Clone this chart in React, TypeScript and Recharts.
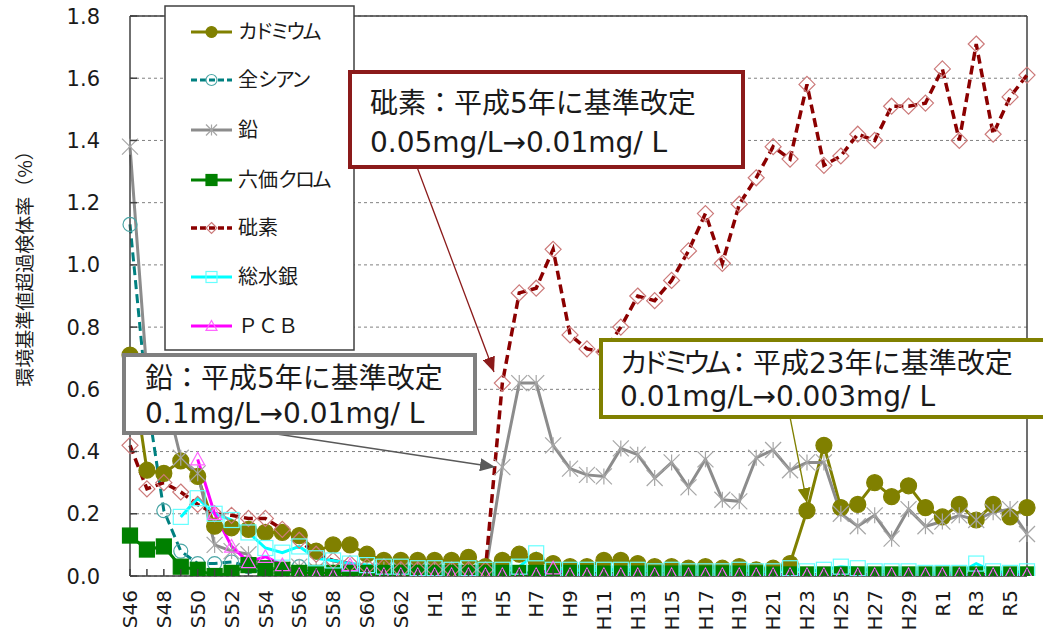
import React from 'react'
import { LineChart, Line, XAxis, YAxis, CartesianGrid, ReferenceLine } from 'recharts'

// fiscal years S46 (1971) .. R6 (2024)
const years = [
  'S46', 'S47', 'S48', 'S49', 'S50', 'S51', 'S52', 'S53', 'S54', 'S55', 'S56', 'S57', 'S58', 'S59', 'S60', 'S61', 'S62', 'S63',
  'H1', 'H2', 'H3', 'H4', 'H5', 'H6', 'H7', 'H8', 'H9', 'H10',
  'H11', 'H12', 'H13', 'H14', 'H15', 'H16', 'H17', 'H18', 'H19', 'H20',
  'H21', 'H22', 'H23', 'H24', 'H25', 'H26', 'H27', 'H28', 'H29', 'H30',
  'R1', 'R2', 'R3', 'R4', 'R5', 'R6',
]

const cadmium = [
  0.71, 0.34, 0.33, 0.37, 0.32, 0.16, 0.155, 0.15, 0.14, 0.14, 0.13, 0.08, 0.1, 0.1, 0.07, 0.05, 0.05, 0.05,
  0.05, 0.05, 0.06, 0.03, 0.05, 0.07, 0.05, 0.04, 0.03, 0.03,
  0.05, 0.05, 0.04, 0.03, 0.03, 0.025, 0.03, 0.025, 0.03, 0.02,
  0.025, 0.04, 0.21, 0.42, 0.22, 0.23, 0.3, 0.255, 0.29, 0.22,
  0.19, 0.23, 0.18, 0.23, 0.19, 0.22,
]
const cyanide = [
  1.13, 0.57, 0.21, 0.08, 0.04, 0.04, 0.045, 0.03, 0.0, 0.0, 0.03, 0.01, 0.01, 0.01, 0.01, 0.005, 0.005, 0.005,
  0.005, 0.005, 0.005, 0.005, 0.005, 0.005, 0.01, 0.005, 0.005, 0.005,
  0.005, 0.005, 0.005, 0.005, 0.005, 0.005, 0.005, 0.005, 0.005, 0.005,
  0.003, 0.003, 0.003, 0.003, 0.003, 0.003, 0.003, 0.003, 0.003, 0.003,
  0.003, 0.003, 0.003, 0.003, 0.003, 0.003,
]
const lead = [
  1.38, 0.65, 0.6, 0.38, 0.33, 0.1, 0.08, 0.07, 0.0, 0.02, 0.03, 0.02, 0.02, 0.02, 0.02, 0.02, 0.02, 0.02,
  0.02, 0.015, 0.015, 0.01, 0.35, 0.62, 0.62, 0.42, 0.345, 0.325,
  0.32, 0.41, 0.39, 0.315, 0.365, 0.285, 0.375, 0.245, 0.24, 0.38,
  0.405, 0.34, 0.365, 0.365, 0.2, 0.16, 0.195, 0.12, 0.215, 0.16,
  0.175, 0.195, 0.18, 0.205, 0.215, 0.135,
]
const chromium = [
  0.13, 0.085, 0.095, 0.03, 0.02, 0.0, 0.01, 0.035, 0.025, 0.02, 0.01, 0.01, 0.01, 0.01, 0.01, 0.01, 0.01, 0.01,
  0.01, 0.01, 0.01, 0.01, 0.01, 0.01, 0.01, 0.01, 0.01, 0.01,
  0.008, 0.008, 0.008, 0.008, 0.008, 0.008, 0.008, 0.008, 0.008, 0.008,
  0.005, 0.005, 0.005, 0.005, 0.005, 0.005, 0.005, 0.005, 0.005, 0.005,
  0.005, 0.005, 0.005, 0.005, 0.005, 0.005,
]
const arsenic = [
  0.42, 0.28, 0.3, 0.27, 0.23, 0.2, 0.195, 0.185, 0.185, 0.15, 0.115, 0.07, 0.05, 0.04, 0.03, 0.03, 0.02, 0.02,
  0.02, 0.02, 0.02, 0.02, 0.62, 0.91, 0.925, 1.05, 0.775, 0.73,
  0.72, 0.8, 0.9, 0.885, 0.95, 1.045, 1.165, 1.005, 1.195, 1.28,
  1.38, 1.34, 1.58, 1.32, 1.35, 1.42, 1.4, 1.51, 1.51, 1.52,
  1.63, 1.4, 1.71, 1.42, 1.54, 1.61,
]
const mercury = [
  null, null, null, 0.19, 0.25, 0.2, 0.18, 0.14, 0.09, 0.075, 0.095, 0.057, 0.05, 0.04, 0.035, 0.03, 0.03, 0.025,
  0.025, 0.02, 0.025, 0.02, 0.02, 0.03, 0.073, 0.02, 0.02, 0.02,
  0.02, 0.02, 0.02, 0.015, 0.02, 0.015, 0.015, 0.015, 0.02, 0.015,
  0.015, 0.025, 0.015, 0.02, 0.03, 0.025, 0.015, 0.015, 0.015, 0.01,
  0.01, 0.01, 0.04, 0.015, 0.01, 0.015,
]
const pcb = [
  null, null, null, null, 0.375, 0.2, 0.095, 0.045, 0.062, 0.035, 0.003, 0.0, 0.0, 0.035, 0.005, 0.003, 0.003, 0.003,
  0.003, 0.003, 0.003, 0.003, 0.003, 0.003, 0.003, 0.025, 0.003, 0.003,
  0.003, 0.003, 0.003, 0.003, 0.003, 0.003, 0.003, 0.003, 0.003, 0.003,
  0.003, 0.003, 0.003, 0.003, 0.003, 0.003, 0.003, 0.003, 0.003, 0.003,
  0.003, 0.003, 0.003, 0.003, 0.003, 0.003,
]

const yTicks = [0, 0.2, 0.4, 0.6, 0.8, 1.0, 1.2, 1.4, 1.6, 1.8]

const data = years.map((year, i) => ({
  year,
  cd: cadmium[i],
  cn: cyanide[i],
  pb: lead[i],
  cr: chromium[i],
  as: arsenic[i],
  hg: mercury[i],
  pcb: pcb[i],
}))

const FONT = "'DejaVu Sans', 'Noto Sans CJK JP', sans-serif"
const JP = "'Noto Sans CJK JP', 'DejaVu Sans', sans-serif"

const series = [
  { key: 'cd', name: 'カドミウム', color: '#808000', width: 3, marker: 'circle', mStroke: '#808000', mFill: '#808000', size: 16 },
  { key: 'cn', name: '全シアン', color: '#008080', width: 3, dash: '9 5', marker: 'circle', mStroke: '#4BA6A6', mFill: 'none', size: 14 },
  { key: 'pb', name: '鉛', color: '#8C8C8C', width: 3, marker: 'star', mStroke: '#A6A6A6', mFill: 'none', size: 16 },
  { key: 'cr', name: '六価クロム', color: '#008000', width: 3, marker: 'square', mStroke: '#008000', mFill: '#008000', size: 15 },
  { key: 'as', name: '砒素', color: '#8B0000', width: 3.5, dash: '9 5', marker: 'diamond', mStroke: '#CC7A7A', mFill: 'none', size: 16 },
  { key: 'hg', name: '総水銀', color: '#00FFFF', width: 3, marker: 'square', mStroke: '#66FFFF', mFill: 'none', size: 15 },
  { key: 'pcb', name: 'ＰＣＢ', color: '#FF00FF', width: 3, marker: 'triangle', mStroke: '#FF66FF', mFill: 'none', size: 14 },
]

// katakana in the original font is narrower than full width: tighten those runs
function Kana({ text, tight }: { text: string; tight: number }) {
  const runs = text.match(/[\u30A0-\u30FF]+|[^\u30A0-\u30FF]+/g) || []
  return (
    <>
      {runs.map((r, i) =>
        /[\u30A0-\u30FF]/.test(r) ? (
          <tspan key={i} letterSpacing={-tight}>{r}</tspan>
        ) : (
          <tspan key={i}>{r}</tspan>
        )
      )}
    </>
  )
}

function Mark({ kind, cx, cy, size, stroke, fill }: any) {
  const h = size / 2
  if (kind === 'circle') return <circle cx={cx} cy={cy} r={h} stroke={stroke} fill={fill} strokeWidth={1.2} />
  if (kind === 'square')
    return <rect x={cx - h} y={cy - h} width={size} height={size} stroke={stroke} fill={fill} strokeWidth={1.2} />
  if (kind === 'diamond')
    return (
      <polygon
        points={`${cx},${cy - h} ${cx + h},${cy} ${cx},${cy + h} ${cx - h},${cy}`}
        stroke={stroke} fill={fill} strokeWidth={1.2}
      />
    )
  if (kind === 'triangle')
    return (
      <polygon
        points={`${cx},${cy - h} ${cx + h},${cy + h * 0.8} ${cx - h},${cy + h * 0.8}`}
        stroke={stroke} fill={fill} strokeWidth={1.2}
      />
    )
  // star: X plus vertical stroke
  return (
    <g stroke={stroke} strokeWidth={1.2}>
      <line x1={cx - h} y1={cy - h} x2={cx + h} y2={cy + h} />
      <line x1={cx - h} y1={cy + h} x2={cx + h} y2={cy - h} />
      <line x1={cx} y1={cy - h} x2={cx} y2={cy + h} />
    </g>
  )
}

function XTick({ x, y, payload }: any) {
  const idx = years.indexOf(payload.value)
  return (
    <g>
      <line x1={x} y1={y} x2={x} y2={y - 7} stroke="#404040" strokeWidth={1.5} />
      {idx % 2 === 0 && (
        <text
          transform={`translate(${x},${y + 14}) rotate(-90)`}
          textAnchor="end" dy="0.36em" fontSize={20} fill="#1a1a1a" fontFamily={FONT}
        >
          {payload.value}
        </text>
      )}
    </g>
  )
}

function YTick({ x, y, payload }: any) {
  return (
    <g>
      <line x1={x} y1={y} x2={x + 7} y2={y} stroke="#404040" strokeWidth={1.5} />
      <text x={x - 30} y={y} dy="0.36em" textAnchor="end" fontSize={21} fill="#1a1a1a" fontFamily={FONT}>
        {Number(payload.value).toFixed(1)}
      </text>
    </g>
  )
}

const legendRows = [32, 80, 130, 180, 228, 277, 326]

export default function App() {
  return (
    <div style={{ position: 'absolute', left: 0, top: 0, width: 1043, height: 635, background: '#fff', fontFamily: FONT }}>
      <LineChart width={1043} height={635} data={data} margin={{ top: 16, right: 16, left: 20, bottom: 9 }}>
        <CartesianGrid vertical={false} stroke="#808080" strokeDasharray="3 3" />
        <XAxis
          dataKey="year" scale="point" padding={{ left: 0, right: 0 }} interval={0}
          height={50} tickSize={0} tickMargin={0} tickLine={false} tick={<XTick />}
          axisLine={{ stroke: '#404040', strokeWidth: 1.5 }}
        />
        <YAxis
          domain={[0, 1.8]} ticks={yTicks} width={110} tickSize={0} tickMargin={0} tickLine={false}
          tick={<YTick />} axisLine={{ stroke: '#404040', strokeWidth: 1.5 }} allowDataOverflow
        />
        <ReferenceLine y={1.8} stroke="#404040" strokeWidth={1.5} />
        <ReferenceLine x="R6" stroke="#404040" strokeWidth={1.5} />
        {series.map((s) => (
          <Line
            key={s.key}
            dataKey={s.key}
            type="linear"
            stroke={s.color}
            strokeWidth={s.width}
            strokeDasharray={s.dash}
            isAnimationActive={false}
            activeDot={false}
            dot={(p: any) =>
              p.cy == null || p.value == null ? (
                <g key={p.index} />
              ) : (
                <Mark key={p.index} kind={s.marker} cx={p.cx} cy={p.cy} size={s.size} stroke={s.mStroke} fill={s.mFill} />
              )
            }
          />
        ))}
      </LineChart>

      <svg width={1043} height={635} style={{ position: 'absolute', left: 0, top: 0, pointerEvents: 'none' }}>
        <defs>
          {[['ahAs', '#8B1A1A'], ['ahPb', '#595959'], ['ahCd', '#808000']].map(([id, c]) => (
            <marker key={id} id={id} markerUnits="userSpaceOnUse" markerWidth={15} markerHeight={13}
              refX={15} refY={6.5} orient="auto">
              <path d="M0,0 L15,6.5 L0,13 z" fill={c} />
            </marker>
          ))}
        </defs>

        {/* y axis title */}
        <text transform="translate(25,264) rotate(-90)" textAnchor="middle" dy="0.36em"
          fontSize={19} fill="#1a1a1a" fontFamily={JP}>
          環境基準値超過検体率（%）
        </text>

        {/* legend */}
        <rect x={165} y={6} width={189} height={344} fill="#fff" stroke="#404040" strokeWidth={1.5} />
        {series.map((s, i) => (
          <g key={s.key}>
            <line x1={191} x2={232} y1={legendRows[i]} y2={legendRows[i]} stroke={s.color}
              strokeWidth={s.width} strokeDasharray={s.dash ? '6 3' : undefined} />
            <Mark kind={s.marker} cx={211.5} cy={legendRows[i]} size={11} stroke={s.mStroke} fill={s.mFill} />
            <text x={238} y={legendRows[i]} dy="0.36em" fontSize={20} fill="#1a1a1a" fontFamily={JP}>
              <Kana text={s.name} tight={s.key === 'cd' ? 4 : 3} />
            </text>
          </g>
        ))}

        {/* arrows */}
        <line x1={417} y1={167} x2={494} y2={372} stroke="#8B1A1A" strokeWidth={1.3} markerEnd="url(#ahAs)" />
        <line x1={270} y1={433} x2={495} y2={467} stroke="#595959" strokeWidth={1.3} markerEnd="url(#ahPb)" />
        <line x1={790} y1={417} x2={807} y2={503} stroke="#808000" strokeWidth={1.3} markerEnd="url(#ahCd)" />

        {/* annotation: arsenic */}
        <rect x={350} y={72} width={393} height={95} fill="#fff" stroke="#8B1A1A" strokeWidth={4} />
        <text x={370} y={113} fontSize={28} fill="#1a1a1a">砒素：平成5年に基準改定</text>
        <text x={370} y={152} fontSize={28} fill="#1a1a1a">0.05mg/L→0.01mg/ L</text>

        {/* annotation: lead */}
        <rect x={124} y={355} width={351} height={78} fill="#fff" stroke="#7F7F7F" strokeWidth={4} />
        <text x={145} y={388} fontSize={28} fill="#1a1a1a">鉛：平成5年に基準改定</text>
        <text x={145} y={423} fontSize={28} fill="#1a1a1a">0.1mg/L→0.01mg/ L</text>

        {/* annotation: cadmium */}
        <rect x={601} y={340} width={470} height={77} fill="#fff" stroke="#808000" strokeWidth={4} />
        <text x={620} y={373} fontSize={28} fill="#1a1a1a">
          <Kana text="カドミウム：平成23年に基準改定" tight={7} />
        </text>
        <text x={620} y={406} fontSize={28} fill="#1a1a1a">0.01mg/L→0.003mg/ L</text>
      </svg>
    </div>
  )
}
